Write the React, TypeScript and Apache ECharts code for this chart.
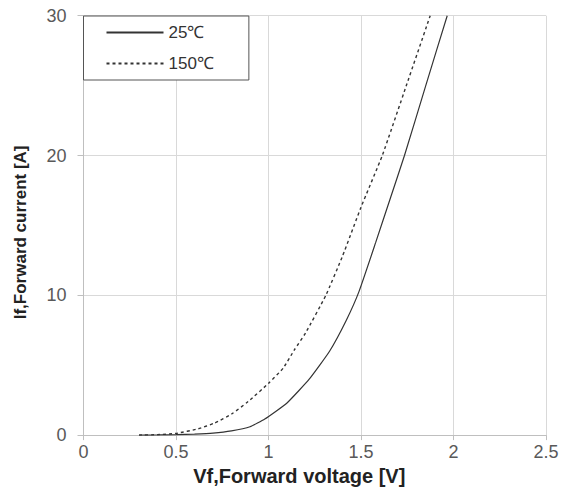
import React, { useEffect, useRef } from "react";
import * as echarts from "echarts";

const vf25: number[] = [0.3, 0.4, 0.5, 0.6, 0.7, 0.8, 0.9, 0.98, 1.1, 1.22, 1.33, 1.42, 1.49, 1.58, 1.66, 1.735, 1.85, 1.966];
const if25: number[] = [0, 0.01, 0.03, 0.07, 0.14, 0.3, 0.6, 1.15, 2.3, 4.0, 6.0, 8.2, 10.3, 13.8, 17.0, 20, 25, 30];

const vf150: number[] = [0.3, 0.4, 0.5, 0.62, 0.71, 0.8, 0.89, 1.0, 1.08, 1.14, 1.2, 1.31, 1.4, 1.5, 1.615, 1.745, 1.874];
const if150: number[] = [0, 0.03, 0.12, 0.45, 0.87, 1.5, 2.4, 3.7, 4.8, 6.1, 7.3, 10, 12.8, 16.3, 20, 25, 30];

const seriesNames: string[] = ["25℃", "150℃"];
const xTitle = "Vf,Forward voltage [V]";
const yTitle = "If,Forward current [A]";

const FONT = "'Liberation Sans', Arial, sans-serif";

export default function App() {
  const ref = useRef<HTMLDivElement>(null);
  useEffect(() => {
    if (!ref.current) return;
    const chart = echarts.init(ref.current, null, { renderer: "svg" });
    const pair = (xs: number[], ys: number[]) => xs.map((x, i) => [x, ys[i]]);
    chart.setOption({
      animation: false,
      backgroundColor: "#ffffff",
      textStyle: { fontFamily: FONT },
      grid: { left: 83.5, right: 17, top: 15.7, bottom: 55.3, containLabel: false },
      legend: {
        orient: "vertical",
        left: 83.5,
        top: 16,
        padding: [8, 35, 8, 22],
        itemWidth: 57,
        itemHeight: 14,
        itemGap: 14,
        borderColor: "#555555",
        borderWidth: 1,
        borderRadius: 0,
        backgroundColor: "#ffffff",
        itemStyle: { opacity: 0 },
        textStyle: { fontSize: 17, color: "#333333", fontFamily: FONT },
        data: seriesNames,
      },
      xAxis: {
        type: "value",
        min: 0,
        max: 2.5,
        interval: 0.5,
        name: xTitle,
        nameLocation: "middle",
        nameGap: 28,
        nameTextStyle: { fontSize: 20, fontWeight: "bold", color: "#222222", fontFamily: FONT, padding: [0, 31, 0, 0] },
        axisLine: { show: true, lineStyle: { color: "#bfbfbf", width: 1 } },
        axisTick: { show: true, length: 5, lineStyle: { color: "#bfbfbf" } },
        axisLabel: { fontSize: 18, color: "#595959", margin: 8, fontFamily: FONT },
        splitLine: { show: true, lineStyle: { color: "#d9d9d9", width: 1 } },
      },
      yAxis: {
        type: "value",
        min: 0,
        max: 30,
        interval: 10,
        name: yTitle,
        nameLocation: "middle",
        nameGap: 55,
        nameTextStyle: { fontSize: 17, fontWeight: "bold", color: "#222222", fontFamily: FONT, padding: [0, 14, 0, 0] },
        axisLine: { show: true, lineStyle: { color: "#bfbfbf", width: 1 } },
        axisTick: { show: true, length: 6, lineStyle: { color: "#bfbfbf" } },
        axisLabel: { fontSize: 18, color: "#595959", margin: 17, fontFamily: FONT },
        splitLine: { show: true, lineStyle: { color: "#d9d9d9", width: 1 } },
      },
      series: [
        {
          name: seriesNames[0],
          type: "line",
          data: pair(vf25, if25),
          symbol: "none",
          showSymbol: false,
          smooth: 0.15,
          lineStyle: { color: "#333333", width: 1.2, type: "solid" },
          itemStyle: { color: "#333333" },
        },
        {
          name: seriesNames[1],
          type: "line",
          data: pair(vf150, if150),
          symbol: "none",
          showSymbol: false,
          smooth: 0.15,
          lineStyle: { color: "#333333", width: 1.4, type: [3, 3] },
          itemStyle: { color: "#333333" },
        },
      ],
    });
    return () => chart.dispose();
  }, []);
  return <div ref={ref} style={{ position: "fixed", left: 0, top: 0, width: 563, height: 491 }} />;
}
